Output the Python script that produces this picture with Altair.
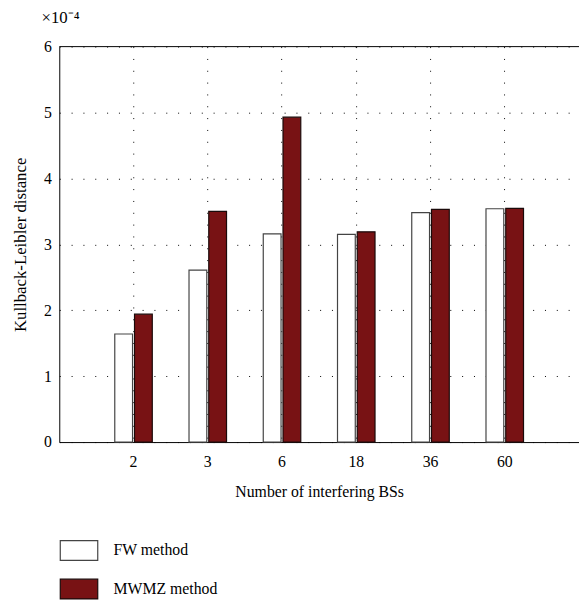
import altair as alt
import pandas as pd

categories = ["2", "3", "6", "18", "36", "60"]
fw_values = [1.64, 2.61, 3.16, 3.15, 3.48, 3.54]
mwmz_values = [1.94, 3.50, 4.93, 3.19, 3.53, 3.545]
series_names = ["FW method", "MWMZ method"]
y_ticks = [0, 1, 2, 3, 4, 5, 6]

rows = []
for c, f, m in zip(categories, fw_values, mwmz_values):
    rows.append({"cat": c, "series": series_names[0], "value": f})
    rows.append({"cat": c, "series": series_names[1], "value": m})
df = pd.DataFrame(rows)

FONT = "Liberation Serif"
W, H = 527, 401

bars = alt.Chart(df).mark_bar(strokeWidth=1.2).encode(
    x=alt.X(
        "cat:N", sort=categories,
        scale=alt.Scale(paddingInner=0, paddingOuter=0.5),
        axis=alt.Axis(
            title="Number of interfering BSs", labelAngle=0, bandPosition=0.5,
            grid=True, gridDash=[1, 11], gridColor="#000000", gridOpacity=1,
            ticks=False, domainColor="black", labelFontSize=16, titleFontSize=16,
            labelPadding=12, titlePadding=14, titleFontWeight="normal",
            labelFont=FONT, titleFont=FONT, labelColor="black", titleColor="black",
        ),
    ),
    xOffset=alt.XOffset(
        "series:N", sort=series_names,
        scale=alt.Scale(paddingInner=0.1, paddingOuter=0.93),
    ),
    y=alt.Y(
        "value:Q",
        scale=alt.Scale(domain=[0, 6], nice=False),
        axis=alt.Axis(
            values=y_ticks, title="Kullback-Leibler distance",
            grid=True, gridDash=[1, 11], gridColor="#000000", gridOpacity=1,
            ticks=False, domainColor="black", labelFontSize=16, titleFontSize=17,
            labelPadding=8, titlePadding=14, titleFontWeight="normal",
            labelFont=FONT, titleFont=FONT, labelColor="black", titleColor="black",
        ),
    ),
    fill=alt.Fill(
        "series:N",
        scale=alt.Scale(domain=series_names, range=["#ffffff", "#781214"]),
        legend=alt.Legend(
            title=None, orient="none", legendX=9, legendY=500, padding=0,
            symbolType="M-1.9,-1L1.9,-1L1.9,1L-1.9,1Z",
            symbolSize=400, symbolStrokeColor="black", symbolStrokeWidth=1.2,
            labelFont=FONT, labelFontSize=16, labelColor="black",
            labelOffset=24, rowPadding=13, symbolOpacity=1,
        ),
    ),
    stroke=alt.Stroke(
        "series:N",
        scale=alt.Scale(domain=series_names, range=["#444444", "#1a0a0a"]),
        legend=None,
    ),
)

top_line = alt.Chart(pd.DataFrame({"a": [0]})).mark_rule(color="black", strokeWidth=1).encode(
    x=alt.value(0), x2=alt.value(W), y=alt.value(0)
)

chart = alt.layer(bars, top_line).properties(
    width=W, height=H,
    title=alt.TitleParams(
        "×10⁻⁴", anchor="start", frame="group", fontSize=17, font=FONT,
        fontWeight="normal", color="black", dx=-18, offset=12,
    ),
    autosize=alt.AutoSizeParams(type="none"),
    padding={"left": 52, "top": 35, "right": 0, "bottom": 157},
).configure_view(stroke=None).configure_legend(labelFont=FONT)

chart.save("out.html", embed_options={"renderer": "svg", "actions": False})
